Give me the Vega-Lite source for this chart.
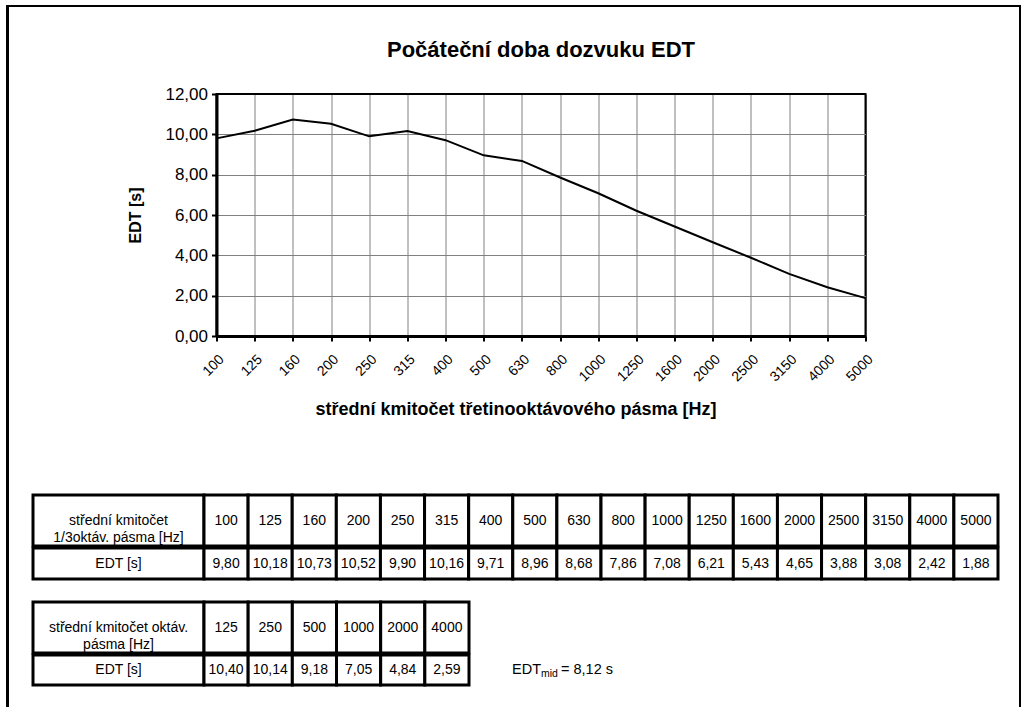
{
  "$schema": "https://vega.github.io/schema/vega-lite/v6.json",
  "padding": {"left": 6, "top": 5, "right": 0, "bottom": 0},
  "background": "white",
  "config": {
    "view": {"stroke": null},
    "font": "Liberation Sans, Arial, sans-serif",
    "locale": {"number": {"decimal": ",", "thousands": " ", "grouping": [3], "currency": ["", ""]}},
    "text": {"color": "black"}
  },
  "datasets": {
    "third": [
      {"f": "100", "edt": 9.80}, {"f": "125", "edt": 10.18}, {"f": "160", "edt": 10.73},
      {"f": "200", "edt": 10.52}, {"f": "250", "edt": 9.90}, {"f": "315", "edt": 10.16},
      {"f": "400", "edt": 9.71}, {"f": "500", "edt": 8.96}, {"f": "630", "edt": 8.68},
      {"f": "800", "edt": 7.86}, {"f": "1000", "edt": 7.08}, {"f": "1250", "edt": 6.21},
      {"f": "1600", "edt": 5.43}, {"f": "2000", "edt": 4.65}, {"f": "2500", "edt": 3.88},
      {"f": "3150", "edt": 3.08}, {"f": "4000", "edt": 2.42}, {"f": "5000", "edt": 1.88}
    ],
    "octave": [
      {"f": "125", "edt": 10.40}, {"f": "250", "edt": 10.14}, {"f": "500", "edt": 9.18},
      {"f": "1000", "edt": 7.05}, {"f": "2000", "edt": 4.84}, {"f": "4000", "edt": 2.59}
    ],
    "hdr": [
      {"id": "t1h", "text": "střední kmitočet\n1/3oktáv. pásma [Hz]"},
      {"id": "t1v", "text": "EDT [s]"},
      {"id": "t2h", "text": "střední kmitočet oktáv.\npásma [Hz]"},
      {"id": "t2v", "text": "EDT [s]"}
    ],
    "edtmid": [{"a": "EDT", "b": "mid", "c": "= 8,12 s"}],
    "none": []
  },
  "spacing": 0,
  "vconcat": [
    {"width": 1015, "height": 2, "data": {"name": "none"}, "mark": "point", "encoding": {}, "view": {"fill": "black", "stroke": null}},
    {
      "spacing": 22,
      "hconcat": [
        {"width": 3, "height": 700, "data": {"name": "none"}, "mark": "point", "encoding": {}, "view": {"fill": "black", "stroke": null}},
        {
          "spacing": 19,
          "hconcat": [
            {
              "spacing": 30,
              "vconcat": [
                {"width": 1, "height": 1, "data": {"name": "none"}, "mark": "point", "encoding": {}},
                {
                  "spacing": 73,
                  "vconcat": [
                    {
                      "spacing": 92.5,
                      "hconcat": [
                        {"width": 1, "height": 1, "data": {"name": "none"}, "mark": "point", "encoding": {}},
                        {
                          "width": 649,
                          "height": 242,
                          "title": {"text": "Počáteční doba dozvuku EDT", "fontSize": 22, "fontWeight": "bold", "offset": 23, "color": "black", "anchor": "middle", "frame": "group"},
                          "view": {"stroke": "black", "strokeWidth": 2},
                          "data": {"name": "third"},
                          "mark": {"type": "line", "color": "black", "strokeWidth": 2},
                          "encoding": {
                            "x": {
                              "field": "f", "type": "ordinal", "sort": null,
                              "scale": {"type": "point", "padding": 0},
                              "axis": {
                                "title": "střední kmitočet třetinooktávového pásma [Hz]",
                                "labelAngle": -45, "labelFontSize": 14, "labelColor": "black", "labelPadding": 11,
                                "grid": true, "gridColor": {"condition": {"test": "datum.value === '5000'", "value": "black"}, "value": "#808080"}, "gridWidth": 1,
                                "domainColor": "black", "domainWidth": 3,
                                "tickColor": "black", "tickWidth": 2, "tickSize": 5,
                                "titleFontSize": 18, "titleFontWeight": "bold", "titleColor": "black", "titlePadding": 17, "titleX": 299
                              }
                            },
                            "y": {
                              "field": "edt", "type": "quantitative",
                              "scale": {"domain": [0, 12], "nice": false},
                              "axis": {
                                "values": [0, 2, 4, 6, 8, 10, 12], "format": ".2f",
                                "title": "EDT [s]", "titleFontSize": 16, "titleFontWeight": "bold", "titleColor": "black", "titlePadding": 21,
                                "labelFontSize": 17, "labelColor": "black", "labelPadding": 4,
                                "grid": true, "gridColor": {"condition": {"test": "datum.value === 12", "value": "black"}, "value": "#808080"}, "gridWidth": 1,
                                "domainColor": "black", "domainWidth": 3,
                                "tickColor": "black", "tickWidth": 2, "tickSize": 5
                              }
                            }
                          }
                        }
                      ]
                    },
                    {
                      "spacing": 19,
                      "vconcat": [
                        {
                          "spacing": -3,
                          "vconcat": [
                            {
                              "spacing": 0, "bounds": "flush",
                              "hconcat": [
                                {"width": 171, "height": 51, "data": {"name": "hdr"}, "transform": [{"filter": "datum.id === 't1h'"}],
                                 "layer": [
                                   {"mark": {"type": "rect", "fill": "white", "stroke": "black", "strokeWidth": 3}, "encoding": {}},
                                   {"mark": {"type": "text", "fontSize": 14, "lineBreak": "\n", "lineHeight": 17, "color": "black"}, "encoding": {"text": {"field": "text"}}}
                                 ]},
                                {"width": 794, "height": 51, "data": {"name": "third"},
                                 "encoding": {"x": {"field": "f", "type": "ordinal", "sort": null, "scale": {"type": "band", "paddingInner": 0, "paddingOuter": 0}, "axis": null}},
                                 "layer": [
                                   {"mark": {"type": "rect", "fill": "white", "stroke": "black", "strokeWidth": 3}},
                                   {"mark": {"type": "text", "fontSize": 14, "color": "black"}, "encoding": {"text": {"field": "f"}}}
                                 ]}
                              ]
                            },
                            {
                              "spacing": 0, "bounds": "flush",
                              "hconcat": [
                                {"width": 171, "height": 31, "data": {"name": "hdr"}, "transform": [{"filter": "datum.id === 't1v'"}],
                                 "layer": [
                                   {"mark": {"type": "rect", "fill": "white", "stroke": "black", "strokeWidth": 3}, "encoding": {}},
                                   {"mark": {"type": "text", "fontSize": 14, "lineBreak": "\n", "lineHeight": 17, "color": "black"}, "encoding": {"text": {"field": "text"}}}
                                 ]},
                                {"width": 794, "height": 31, "data": {"name": "third"},
                                 "encoding": {"x": {"field": "f", "type": "ordinal", "sort": null, "scale": {"type": "band", "paddingInner": 0, "paddingOuter": 0}, "axis": null}},
                                 "layer": [
                                   {"mark": {"type": "rect", "fill": "white", "stroke": "black", "strokeWidth": 3}},
                                   {"mark": {"type": "text", "fontSize": 14, "color": "black"}, "encoding": {"text": {"field": "edt", "type": "quantitative", "format": ".2f"}}}
                                 ]}
                              ]
                            }
                          ]
                        },
                        {
                          "spacing": -3,
                          "vconcat": [
                            {
                              "spacing": 0, "bounds": "flush",
                              "hconcat": [
                                {"width": 171, "height": 51, "data": {"name": "hdr"}, "transform": [{"filter": "datum.id === 't2h'"}],
                                 "layer": [
                                   {"mark": {"type": "rect", "fill": "white", "stroke": "black", "strokeWidth": 3}, "encoding": {}},
                                   {"mark": {"type": "text", "fontSize": 14, "lineBreak": "\n", "lineHeight": 17, "color": "black"}, "encoding": {"text": {"field": "text"}}}
                                 ]},
                                {"width": 265, "height": 51, "data": {"name": "octave"},
                                 "encoding": {"x": {"field": "f", "type": "ordinal", "sort": null, "scale": {"type": "band", "paddingInner": 0, "paddingOuter": 0}, "axis": null}},
                                 "layer": [
                                   {"mark": {"type": "rect", "fill": "white", "stroke": "black", "strokeWidth": 3}},
                                   {"mark": {"type": "text", "fontSize": 14, "color": "black"}, "encoding": {"text": {"field": "f"}}}
                                 ]}
                              ]
                            },
                            {
                              "spacing": 41,
                              "hconcat": [
                                {
                                  "spacing": 0, "bounds": "flush",
                                  "hconcat": [
                                    {"width": 171, "height": 30, "data": {"name": "hdr"}, "transform": [{"filter": "datum.id === 't2v'"}],
                                     "layer": [
                                       {"mark": {"type": "rect", "fill": "white", "stroke": "black", "strokeWidth": 3}, "encoding": {}},
                                       {"mark": {"type": "text", "fontSize": 14, "lineBreak": "\n", "lineHeight": 17, "color": "black"}, "encoding": {"text": {"field": "text"}}}
                                     ]},
                                    {"width": 265, "height": 30, "data": {"name": "octave"},
                                     "encoding": {"x": {"field": "f", "type": "ordinal", "sort": null, "scale": {"type": "band", "paddingInner": 0, "paddingOuter": 0}, "axis": null}},
                                     "layer": [
                                       {"mark": {"type": "rect", "fill": "white", "stroke": "black", "strokeWidth": 3}},
                                       {"mark": {"type": "text", "fontSize": 14, "color": "black"}, "encoding": {"text": {"field": "edt", "type": "quantitative", "format": ".2f"}}}
                                     ]}
                                  ]
                                },
                                {"width": 110, "height": 30, "data": {"name": "edtmid"},
                                 "layer": [
                                   {"mark": {"type": "text", "align": "left", "dx": -55, "fontSize": 14.5, "color": "black"}, "encoding": {"text": {"field": "a"}}},
                                   {"mark": {"type": "text", "align": "left", "dx": -26, "dy": 4, "fontSize": 10.5, "color": "black"}, "encoding": {"text": {"field": "b"}}},
                                   {"mark": {"type": "text", "align": "left", "dx": -6, "fontSize": 14.5, "color": "black"}, "encoding": {"text": {"field": "c"}}}
                                 ]}
                              ]
                            }
                          ]
                        }
                      ]
                    }
                  ]
                }
              ]
            },
            {"width": 2, "height": 700, "data": {"name": "none"}, "mark": "point", "encoding": {}, "view": {"fill": "black", "stroke": null}}
          ]
        }
      ]
    }
  ]
}
